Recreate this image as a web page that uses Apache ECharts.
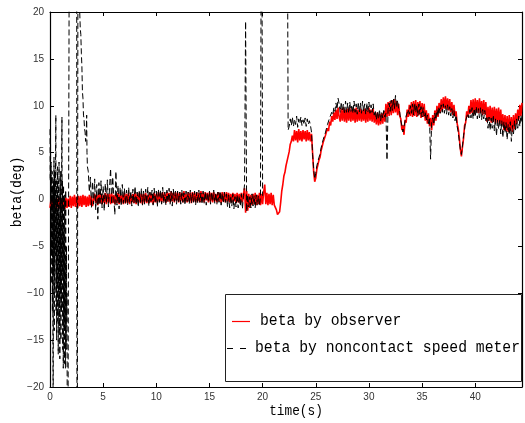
<!DOCTYPE html>
<html><head><meta charset="utf-8">
<script src="https://cdn.jsdelivr.net/npm/echarts@6/dist/echarts.min.js"></script>
<style>html,body{margin:0;padding:0;background:#fff}#c{width:525px;height:423px}</style>
</head><body><div id="c"></div>
<script>
// ---- tick labels ----
const xTicks = [0, 5, 10, 15, 20, 25, 30, 35, 40];
const yTicks = [-20, -15, -10, -5, 0, 5, 10, 15, 20];
const xMin = 0, xMax = 44.4, yMin = -20, yMax = 20;

// ---- series names ----
const nameObserver = 'beta by observer';
const nameMeter = 'beta by noncontact speed meter';

// ---- beta by observer (deg), sampled every 0.1 s from t = 0 ----
const observerStart = 0, observerStep = 0.1;
const observer = [
-0.9,0.1,-1.0,0.2,-0.8,0.0,-1.0,0.1,-0.9,0.2,-1.1,0.0,-0.8,0.1,-1.0,0.2,-0.9,0.1,
-0.8,0.4,-0.9,0.3,-0.7,0.5,-0.8,0.3,-0.9,0.4,-0.7,0.4,-0.8,0.5,-0.6,0.4,-0.8,0.3,-0.7,0.5,-0.6,0.4,-0.7,
-0.5,0.6,-0.4,0.5,-0.6,0.7,-0.4,0.6,-0.5,0.5,
-0.4,0.7,-0.5,0.6,-0.3,0.6,-0.5,0.7,-0.4,0.5,
-0.5,0.6,-0.4,0.7,-0.5,0.6,-0.3,0.5,-0.5,0.7,
-0.4,0.6,-0.4,0.7,-0.5,0.5,-0.3,0.6,-0.4,0.7,
-0.5,0.6,-0.3,0.7,-0.4,0.6,-0.5,0.6,-0.3,0.7,
-0.4,0.5,-0.4,0.7,-0.3,0.6,-0.5,0.7,-0.3,0.6,
-0.3,0.8,-0.2,0.7,-0.3,0.8,-0.2,0.6,-0.4,0.8,
-0.2,0.7,-0.3,0.9,-0.2,0.7,-0.3,0.8,-0.1,0.7,
-0.3,0.8,-0.2,0.7,-0.3,0.9,-0.2,0.6,-0.3,0.8,
-0.2,0.7,-0.4,0.8,-0.2,0.7,-0.3,0.8,-0.2,0.7,
-0.3,0.9,-0.2,0.7,-0.3,0.8,-0.1,0.7,-0.3,0.8,
-0.2,0.7,-0.3,0.8,-0.2,0.6,-0.3,0.8,-0.2,0.7,
-0.4,0.8,-0.2,0.7,-0.3,0.8,-0.2,0.7,-0.3,0.6,
-0.3,0.7,-0.2,0.6,-0.4,0.7,-0.3,0.6,-0.4,0.7,
-0.3,0.6,
1.2,-1.4,0.9,-1.2,0.6,-0.9,0.5,
-0.6,0.6,-0.5,0.7,-0.6,0.5,-0.5,0.7,-0.6,0.6,-0.5,0.8,
1.6,
-0.5,0.7,-0.6,0.6,-0.5,0.7,-0.6,0.5,-0.6,
-0.7,-1.1,-1.6,-1.8,-1.3,
-0.3,0.9,1.6,2.5,2.9,3.6,3.8,4.6,5.1,5.9,6.2,6.8,
6.2,7.4,6.3,7.3,6.1,7.5,6.3,7.3,6.2,7.4,6.4,7.3,6.2,7.4,6.3,7.2,6.2,7.0,
5.0,3.0,1.9,2.3,3.2,3.4,4.2,4.5,5.2,5.3,6.1,5.9,6.8,6.7,7.6,7.3,8.3,7.9,8.9,8.3,
9.3,8.5,9.6,8.6,9.8,8.8,
8.3,9.7,8.4,9.8,8.3,9.6,8.2,9.7,8.4,9.8,
8.3,9.6,8.4,9.7,8.2,9.8,8.3,9.6,8.4,9.7,
8.3,9.5,8.4,9.7,8.2,9.6,8.3,9.8,8.4,9.6,
8.3,9.7,8.2,
9.2,8.0,9.3,7.9,9.1,8.0,9.2,8.1,9.4,8.3,
10.2,8.8,10.4,8.9,10.5,9.0,10.6,9.2,10.7,9.3,10.5,9.0,10.2,8.9,
8.6,7.4,7.9,6.9,8.5,8.2,9.6,8.8,10.1,8.9,
10.4,8.8,10.5,8.9,10.6,8.8,10.4,9.0,10.5,8.7,10.3,8.8,10.2,
8.4,9.5,8.1,9.2,7.8,8.7,7.4,
9.0,7.9,9.5,8.4,10.0,8.8,10.3,9.2,10.7,9.5,10.9,9.7,11.0,9.6,10.8,9.5,10.7,9.3,10.4,9.0,
10.1,8.9,9.4,8.1,7.6,6.6,5.4,4.6,5.6,6.5,7.9,8.2,9.4,8.8,10.0,
9.1,10.6,9.2,10.7,9.1,10.8,9.3,10.6,9.2,10.8,9.2,10.5,9.0,10.6,9.1,10.4,
8.3,9.9,8.4,10.0,8.2,9.8,8.3,9.9,8.1,9.7,8.2,9.8,8.0,9.6,7.9,
9.1,7.4,9.0,7.3,8.9,7.2,9.0,7.3,8.8,7.2,9.0,7.5,9.2,
8.0,9.6,8.5,10.1,8.9,10.3
];

// ---- beta by noncontact speed meter (deg) ----
// early part, sampled every 0.025 s from t = 0
const meterEarlyStart = 0, meterEarlyStep = 0.025;
const meterEarly = [
7.5,2.0,6.0,-3.0,4.0,-6.0,2.5,-9.0,3.0,-12.0,1.5,-16.0,-24.0,2.0,-8.0,4.5,
-14.0,3.0,-10.0,1.0,-6.0,5.0,9.0,-12.0,2.0,-15.0,0.5,-9.0,3.5,-13.0,-1.0,-16.5,
2.0,-11.0,4.0,-14.0,-2.0,-17.0,1.0,-10.0,3.0,-15.0,0.0,-12.0,5.0,8.8,-8.0,2.0,
-16.0,-3.0,-18.0,1.5,-13.0,-4.0,-17.5,0.5,-14.0,-6.0,-18.0,1.0,-11.0,-16.0,-5.0,-13.0
];
// out-of-range jumps between 1.6 s and 3.55 s
const meterJumpT = [1.6,1.65,1.85,2.5,2.55,2.65,2.72,2.78,2.85,2.9,2.95,3.0,3.05,3.1,3.15,3.2,3.25,3.3,3.35,3.4,3.45,3.48,3.52];
const meterJumpV = [-10,-45,45,45,-45,45,21,20.5,18.2,17.6,15.6,14.2,11.5,10.8,9.0,8.6,7.5,7.2,6.2,6.6,9.0,5.0,3.5];
// main part, sampled every 0.1 s from t = 3.6 (null = no reading)
const meterMainStart = 3.6, meterMainStep = 0.1;
const meterMain = [
3.0,0.8,2.4,-0.9,1.9,-0.5,2.2,-1.1,1.6,-2.1,1.8,-0.6,2.0,-0.9,1.4,-1.2,1.7,-0.4,2.1,-0.8,
1.2,3.3,-0.5,2.4,0.2,-1.6,3.0,-0.6,1.5,-1.0,1.3,-0.7,1.6,-0.4,
1.2,-0.5,1.0,-0.6,1.3,-0.3,0.9,-0.7,1.1,-0.4,
1.4,-0.5,0.8,-0.8,1.0,-0.3,1.2,-0.6,0.9,-0.5,
1.1,-0.4,1.3,-0.7,0.8,-0.2,1.0,-0.6,1.2,-0.4,
0.9,-0.8,1.1,-0.3,1.0,-0.5,1.3,-0.4,0.8,-0.6,
1.0,-0.3,1.2,-0.5,0.9,-0.7,1.1,-0.2,0.9,-0.5,
0.9,-0.4,0.8,-0.5,1.0,-0.3,0.7,-0.6,0.9,-0.2,
0.8,-0.5,1.0,-0.4,0.7,-0.3,0.9,-0.6,0.8,-0.4,
1.0,-0.3,0.7,-0.5,0.9,-0.4,0.8,-0.6,0.7,-0.3,
0.9,-0.5,0.8,-0.2,1.0,-0.4,0.7,-0.5,0.8,-0.3,
0.9,-0.6,0.7,-0.4,0.8,-0.3,0.6,
-0.8,0.5,-0.9,0.4,-0.7,0.6,-1.0,0.3,-0.8,0.5,-0.9,0.4,-0.7,0.6,-1.0,0.4,
1.6,19.0,-1.3,
0.5,-0.8,0.3,-0.9,0.6,-0.7,0.4,-0.9,0.5,-0.6,0.4,-0.7,
0.3,40,0.4,
null,null,null,null,null,null,null,null,null,null,null,
null,null,null,null,null,null,null,null,null,null,null,
40,7.4,
7.8,8.6,7.9,8.8,7.8,8.5,8.0,8.9,7.7,8.6,8.1,8.8,7.9,8.5,8.0,8.7,7.8,8.6,8.0,8.4,7.9,
7.2,4.8,3.3,2.2,
2.8,3.6,3.7,4.5,4.8,5.5,5.7,6.4,6.3,7.1,7.2,8.0,7.8,8.7,8.5,9.3,9.0,9.8,
9.4,10.3,9.6,10.8,10.2,
9.3,10.4,9.4,10.2,9.1,10.5,9.3,10.3,9.2,10.4,
9.4,10.1,9.2,10.5,9.3,10.2,9.1,10.4,9.3,10.3,
9.2,10.5,9.4,10.2,9.1,10.3,9.3,10.4,9.2,10.1,
9.3,10.2,9.0,
9.5,8.5,9.4,8.6,9.6,8.4,9.3,8.7,9.5,8.8,
9.2,4.2,9.6,
10.3,9.4,10.6,9.5,10.8,9.7,11.1,9.8,10.6,
9.6,9.3,8.4,7.9,7.2,
7.8,8.0,8.9,8.7,9.6,9.1,10.0,
9.2,10.2,9.0,10.3,9.3,10.1,8.9,10.2,9.1,9.9,8.8,9.8,8.9,
9.3,8.4,9.0,8.1,8.6,
4.3,8.2,
8.7,8.0,9.2,8.5,9.6,8.9,9.9,9.2,10.1,9.3,10.2,9.2,10.0,9.1,10.1,9.0,9.9,8.9,9.7,8.7,
9.5,8.4,9.0,7.8,7.2,6.2,5.3,4.8,5.7,6.8,7.5,8.4,8.6,9.2,8.7,
9.6,8.7,9.8,8.6,9.7,8.8,9.9,8.6,9.7,8.7,9.8,8.5,9.6,8.6,9.5,8.4,
8.9,7.6,8.8,7.4,8.7,7.6,9.0,7.3,8.6,6.8,8.5,7.5,8.6,7.0,8.4,
6.6,8.3,7.1,8.2,6.4,8.0,6.9,8.3,6.2,7.9,7.0,8.4,7.3,
8.6,7.6,8.9,7.8,9.0,8.2
];

// ---- build data ----
const rt = v => Math.round(v * 1000) / 1000;
const observerData = observer.map((v, i) => [rt(observerStart + i * observerStep), v]);
const meterData = [].concat(
  meterEarly.map((v, i) => [rt(meterEarlyStart + i * meterEarlyStep), v]),
  meterJumpT.map((t, i) => [t, meterJumpV[i]]),
  meterMain.map((v, i) => [rt(meterMainStart + i * meterMainStep), v])
);

const fmtX = v => (xTicks.indexOf(Math.round(v * 1000) / 1000) >= 0 ? String(v) : '');
const fmtY = v => (yTicks.indexOf(v) >= 0 ? (v < 0 ? '\u2212' + (-v) : String(v)) : '');

const axisLineStyle = { color: '#000', width: 1.2 };
const tickStyle = { color: '#000', width: 1 };
const labelStyle = { color: '#333', fontSize: 10, fontFamily: 'Liberation Sans' };

const chart = echarts.init(document.getElementById('c'), null, { renderer: 'canvas' });
chart.setOption({
  animation: false,
  backgroundColor: '#fff',
  grid: { left: 50, right: 2, top: 12, bottom: 36, containLabel: false },
  xAxis: [
    { type: 'value', min: xMin, max: xMax, interval: 5, position: 'bottom',
      axisLine: { show: true, onZero: false, lineStyle: axisLineStyle },
      axisTick: { show: true, inside: true, length: 4, lineStyle: tickStyle },
      axisLabel: Object.assign({ margin: 5, formatter: fmtX }, labelStyle),
      splitLine: { show: false } },
    { type: 'value', min: xMin, max: xMax, interval: 5, position: 'top',
      axisLine: { show: true, onZero: false, lineStyle: axisLineStyle },
      axisTick: { show: true, inside: true, length: 4, lineStyle: tickStyle },
      axisLabel: { show: false }, splitLine: { show: false } }
  ],
  yAxis: [
    { type: 'value', min: yMin, max: yMax, interval: 5, position: 'left',
      axisLine: { show: true, onZero: false, lineStyle: axisLineStyle },
      axisTick: { show: true, inside: true, length: 4, lineStyle: tickStyle },
      axisLabel: Object.assign({ margin: 6, formatter: fmtY }, labelStyle),
      splitLine: { show: false } },
    { type: 'value', min: yMin, max: yMax, interval: 5, position: 'right',
      axisLine: { show: true, onZero: false, lineStyle: axisLineStyle },
      axisTick: { show: true, inside: true, length: 4, lineStyle: tickStyle },
      axisLabel: { show: false }, splitLine: { show: false } }
  ],
  series: [
    { type: 'line', name: nameObserver, data: observerData, xAxisIndex: 0, yAxisIndex: 0,
      symbol: 'none', showSymbol: false, clip: true, z: 2,
      lineStyle: { color: '#ff0000', width: 1.6 } },
    { type: 'line', name: nameMeter, data: meterData, xAxisIndex: 0, yAxisIndex: 0,
      symbol: 'none', showSymbol: false, clip: true, connectNulls: false, z: 3,
      lineStyle: { color: '#000', width: 1, type: [6, 3] } }
  ],
  graphic: [
    { type: 'text', x: 296, y: 411, z: 100, scaleX: 0.85,
      style: { text: 'time(s)', font: '15px "Liberation Mono"', fill: '#000', align: 'center', verticalAlign: 'middle' } },
    { type: 'text', x: 17, y: 192, z: 100, rotation: Math.PI / 2, scaleX: 0.87,
      style: { text: 'beta(deg)', font: '15px "Liberation Mono"', fill: '#000', align: 'center', verticalAlign: 'middle' } },
    { type: 'rect', z: 100, shape: { x: 225.5, y: 294.5, width: 296, height: 87 },
      style: { fill: '#fff', stroke: '#222', lineWidth: 1 } },
    { type: 'line', z: 101, shape: { x1: 232, y1: 321.5, x2: 250, y2: 321.5 },
      style: { stroke: '#ff0000', lineWidth: 1.2 } },
    { type: 'line', z: 101, shape: { x1: 227, y1: 348.5, x2: 246, y2: 348.5 },
      style: { stroke: '#000', lineWidth: 1, lineDash: [6, 7] } },
    { type: 'text', x: 260, y: 321, z: 101, scaleX: 0.92,
      style: { text: nameObserver, font: '16px "Liberation Mono"', fill: '#000', align: 'left', verticalAlign: 'middle' } },
    { type: 'text', x: 255, y: 348, z: 101, scaleX: 0.92,
      style: { text: nameMeter, font: '16px "Liberation Mono"', fill: '#000', align: 'left', verticalAlign: 'middle' } }
  ]
});
</script>
</body></html>
